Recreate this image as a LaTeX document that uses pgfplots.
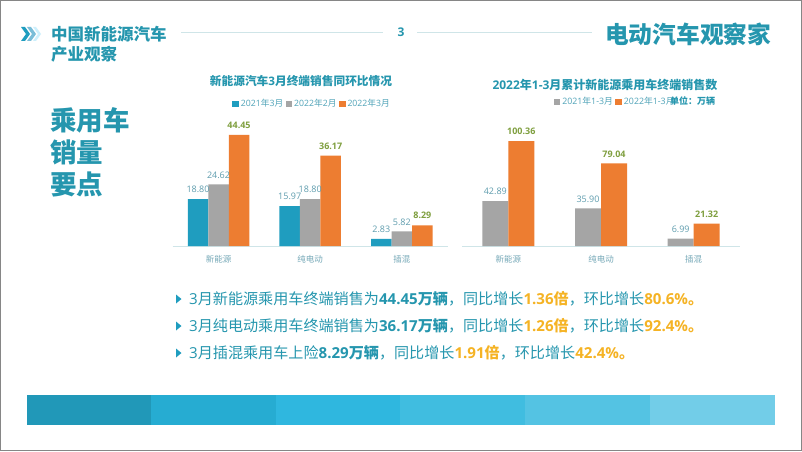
\documentclass[border=0pt]{standalone}
\usepackage{pgfplots}
\pgfplotsset{compat=1.18}
\usepackage{fontspec}
\setmainfont{Open Sans}
\newfontfamily\cjkf{Noto Sans CJK SC}
\newcommand{\zh}[1]{{\cjkf #1}}
\newcommand{\fs}[1]{\fontsize{#1}{#1}\selectfont}
\definecolor{tealT}{HTML}{2596AE}
\definecolor{barT}{HTML}{1F9DBF}
\definecolor{barG}{HTML}{A5A5A5}
\definecolor{barO}{HTML}{ED7D31}
\definecolor{amb}{HTML}{F5B324}
\definecolor{lblB}{HTML}{5F9DAE}
\definecolor{lblG}{HTML}{7F9F3F}
\definecolor{tickC}{HTML}{76A9B8}
\definecolor{legC}{HTML}{4FA3B8}
\definecolor{lineC}{HTML}{CFE5E8}
\pgfplotstableread{
x a b c
0 18.80 24.62 44.45
1 15.97 18.80 36.17
2 2.83 5.82 8.29
}\leftdata
\pgfplotstableread{
x b c
0 42.89 100.36
1 35.90 79.04
2 6.99 21.32
}\rightdata
\pgfplotsset{
  slide/.style={
    scale only axis, ymin=0, xmin=-0.5, xmax=2.5,
    axis y line=none, axis x line*=bottom,
    axis line style={draw=lineC,-,line width=1pt},
    xtick={0,1,2}, xticklabels={\zh{新能源},\zh{纯电动},\zh{插混}},
    x tick label style={font=\fs{8.5},text=tickC,yshift=-6pt},
    major tick length=0pt, clip=false,
    legend cell align=left,
    legend image code/.code={\fill[##1] (0pt,-3.2pt) rectangle (6.5pt,3.2pt);},
  },
  numlabel/.style={
    nodes near coords={\pgfmathprintnumber[fixed,fixed zerofill,precision=2,assume math mode=true]{\pgfplotspointmeta}},
    every node near coord/.append style={font=\fs{9},text=lblB,inner sep=0pt,anchor=south,xshift=#1,yshift=6pt},
  },
  greenlabel/.style={
    nodes near coords={\pgfmathprintnumber[fixed,fixed zerofill,precision=2,assume math mode=true]{\pgfplotspointmeta}},
    every node near coord/.append style={font=\fs{9}\bfseries,text=lblG,inner sep=0pt,anchor=south,xshift=#1,yshift=6pt},
  },
}
\begin{document}
\begin{tikzpicture}[x=1pt,y=1pt]
\path[use as bounding box] (0,0) rectangle (802,451);
\fill[white] (0,0) rectangle (802,451);
\draw[gray!95,line width=1pt] (0.5,0.5) rectangle (801.5,450.5);
% header
\fill[barT] (21,424) -- (25,424) -- (30,417) -- (25,410) -- (21,410) -- (26,417) -- cycle;
\fill[cyan!50!teal!60] (27,424) -- (31,424) -- (36,417) -- (31,410) -- (27,410) -- (32,417) -- cycle;
\fill[cyan!20] (33,424) -- (36,424) -- (41,417) -- (36,410) -- (33,410) -- (38,417) -- cycle;
\node[anchor=west,inner sep=0,text=tealT,font=\fs{16.5}\bfseries] at (51,417) {\zh{中国新能源汽车}};
\node[anchor=west,inner sep=0,text=tealT,font=\fs{16.5}\bfseries] at (51,397) {\zh{产业观察}};
\draw[lineC,line width=1pt] (181,418) -- (383,418);
\draw[lineC,line width=1pt] (417,418) -- (592,418);
\node[text=tealT,font=\fs{12}\bfseries,inner sep=0] at (401,419) {3};
\node[anchor=west,inner sep=0,text=tealT,font=\fs{23.7}\bfseries] at (605,417) {\zh{电动汽车观察家}};
% left heading
\node[anchor=west,inner sep=0,text=tealT,font=\fs{26.5}\bfseries] at (50,331) {\zh{乘用车}};
\node[anchor=west,inner sep=0,text=tealT,font=\fs{26.5}\bfseries] at (50,299) {\zh{销量}};
\node[anchor=west,inner sep=0,text=tealT,font=\fs{26.5}\bfseries] at (50,267) {\zh{要点}};
% chart titles
\node[text=tealT,font=\fs{11.7}\bfseries,inner sep=0] at (301,370) {\zh{新能源汽车}3\zh{月终端销售同环比情况}};
\node[text=tealT,font=\fs{12}\bfseries,inner sep=0] at (605,366) {2022\zh{年}1-3\zh{月累计新能源乘用车终端销售数}};
% left chart
\begin{axis}[slide, at={(172.7pt,205pt)}, anchor=south west, width=275pt, height=125pt, ymax=50,
  legend style={at={(rel axis cs:0.507,1.136)},anchor=center,draw=none,fill=none,font=\fs{8.7},text=legC,legend columns=3,inner sep=0pt,
    /tikz/every even column/.style={column sep=0.5pt}},
]
\addplot[ybar,bar width=20.5pt,bar shift=-20.5pt,fill=barT,draw=none,numlabel=-20.5pt] table[x=x,y=a]{\leftdata};
\addlegendentry{2021\zh{年}3\zh{月}\hspace{5pt}}
\addplot[ybar,bar width=20.5pt,bar shift=0pt,fill=barG,draw=none,numlabel=0pt] table[x=x,y=b]{\leftdata};
\addlegendentry{2022\zh{年}2\zh{月}\hspace{5pt}}
\addplot[ybar,bar width=20.5pt,bar shift=20.5pt,fill=barO,draw=none,greenlabel=20.5pt] table[x=x,y=c]{\leftdata};
\addlegendentry{2022\zh{年}3\zh{月}}
\end{axis}
% right chart
\begin{axis}[slide, at={(462pt,205pt)}, anchor=south west, width=278pt, height=115pt, ymax=110,
  legend style={at={(rel axis cs:0.551,1.252)},anchor=center,draw=none,fill=none,font=\fs{8.8},text=legC,legend columns=2,inner sep=0pt,
    /tikz/every even column/.style={column sep=0.5pt}},
]
\addplot[ybar,bar width=26pt,bar shift=-13pt,fill=barG,draw=none,numlabel=-13pt] table[x=x,y=b]{\rightdata};
\addlegendentry{2021\zh{年}1-3\zh{月}\hspace{16pt}}
\addplot[ybar,bar width=26pt,bar shift=13pt,fill=barO,draw=none,greenlabel=13pt] table[x=x,y=c]{\rightdata};
\addlegendentry{2022\zh{年}1-3\zh{月}}
\end{axis}
\node[anchor=west,inner sep=0,text=tealT,font=\fs{9}\bfseries] at (670,350) {\zh{单位：万辆}};
% bullets
\foreach \yy in {152,125,98}{\fill[barT] (176,\yy+4.5) -- (181.5,\yy) -- (176,\yy-4.5) -- cycle;}
\node[anchor=west,inner sep=0,text=tealT,font=\fs{15.1}] at (189,152) {3\zh{月新能源乘用车终端销售为}\textbf{44.45\zh{万辆}}\zh{，同比增长}\textcolor{amb}{\textbf{1.36\zh{倍}}}\zh{，环比增长}\textcolor{amb}{\textbf{80.6\%\zh{。}}}};
\node[anchor=west,inner sep=0,text=tealT,font=\fs{15.1}] at (189,125) {3\zh{月纯电动乘用车终端销售为}\textbf{36.17\zh{万辆}}\zh{，同比增长}\textcolor{amb}{\textbf{1.26\zh{倍}}}\zh{，环比增长}\textcolor{amb}{\textbf{92.4\%\zh{。}}}};
\node[anchor=west,inner sep=0,text=tealT,font=\fs{15.1}] at (189,98) {3\zh{月插混乘用车上险}\textbf{8.29\zh{万辆}}\zh{，同比增长}\textcolor{amb}{\textbf{1.91\zh{倍}}}\zh{，环比增长}\textcolor{amb}{\textbf{42.4\%\zh{。}}}};
% strip
\fill[fill={rgb,255:red,33;green,152;blue,184}] (26.5,26) rectangle (151,56);
\fill[fill={rgb,255:red,38;green,172;blue,210}] (151,26) rectangle (276,56);
\fill[fill={rgb,255:red,47;green,183;blue,223}] (276,26) rectangle (400,56);
\fill[fill={rgb,255:red,64;green,189;blue,224}] (400,26) rectangle (525,56);
\fill[fill={rgb,255:red,84;green,195;blue,227}] (525,26) rectangle (650,56);
\fill[fill={rgb,255:red,114;green,205;blue,232}] (650,26) rectangle (775,56);
\end{tikzpicture}
\end{document}
